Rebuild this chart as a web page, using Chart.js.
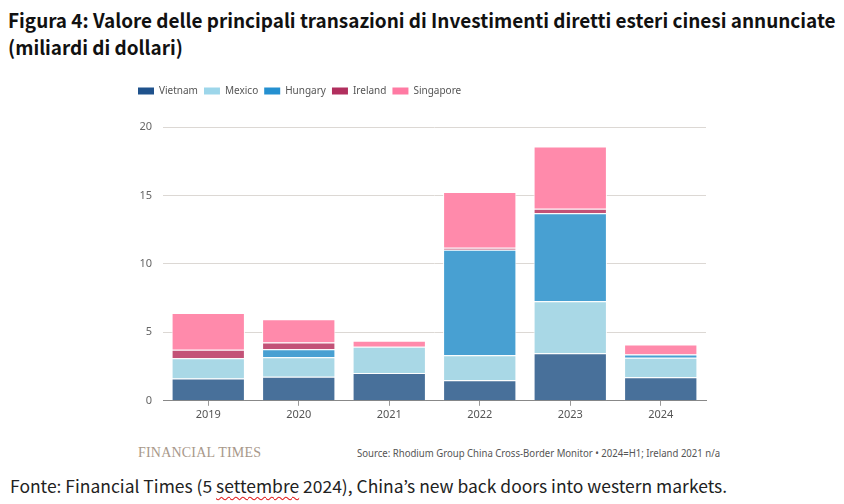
<!DOCTYPE html>
<html>
<head>
<meta charset="utf-8">
<script src="https://cdn.jsdelivr.net/npm/chart.js@4"></script>
<style>
  body { margin: 0; background: #fff; width: 844px; height: 504px; overflow: hidden; position: relative; font-family: "Noto Sans CJK JP", sans-serif; }
  .fit { position: absolute; white-space: nowrap; transform-origin: 0 50%; display: inline-block; }
  #title1, #title2 { left: 8px; font-size: 19.5px; font-weight: bold; color: #111; line-height: 27px; }
  #title1 { top: 6px; }
  #title2 { top: 33px; }
  #chartBox { position: absolute; left: 130px; top: 78px; width: 585px; height: 345px; }
  #ft { position: absolute; left: 138px; top: 445px; font-family: "Liberation Serif", serif; font-size: 14px; color: #a8988a; letter-spacing: 0.2px; }
  #source { left: 357px; top: 446px; font-family: "Noto Sans", sans-serif; font-size: 10px; color: #555; line-height: 14px; }
  #fonte { left: 10px; top: 474px; font-size: 17px; color: #222; line-height: 24px; }
  .spell { text-decoration: underline wavy #e02020; text-decoration-thickness: 1px; text-underline-offset: 3px; }
</style>
</head>
<body>
<div id="title1" class="fit">Figura 4: Valore delle principali transazioni di Investimenti diretti esteri cinesi annunciate</div>
<div id="title2" class="fit">(miliardi di dollari)</div>
<div id="chartBox"><canvas id="chart"></canvas></div>
<div id="ft">FINANCIAL TIMES</div>
<div id="source" class="fit">Source: Rhodium Group China Cross-Border Monitor • 2024=H1; Ireland 2021 n/a</div>
<div id="fonte" class="fit">Fonte: Financial Times (5 <span class="spell">settembre</span> 2024), China’s new back doors into western markets.</div>
<script>
const years = ['2019', '2020', '2021', '2022', '2023', '2024'];
const vietnam = [1.62, 1.76, 2.03, 1.50, 3.48, 1.72];
const mexico = [1.49, 1.43, 1.92, 1.83, 3.80, 1.42];
const hungary = [0, 0.58, 0, 7.70, 6.42, 0.24];
const ireland = [0.62, 0.49, null, 0.15, 0.32, 0.04];
const singapore = [2.69, 1.70, 0.44, 4.07, 4.56, 0.69];
const yTicks = [0, 5, 10, 15, 20];

const series = [
    { label: 'Vietnam', data: vietnam, bar: '#48709a', key: '#1f528c' },
    { label: 'Mexico', data: mexico, bar: '#a9d8e6', key: '#9dd6ea' },
    { label: 'Hungary', data: hungary, bar: '#48a0d2', key: '#2590d0' },
    { label: 'Ireland', data: ireland, bar: '#c35277', key: '#b12f5e' },
    { label: 'Singapore', data: singapore, bar: '#ff8aab', key: '#ff7aa3' }
];

// squeeze text lines to the widths they have in the picture
const fitWidth = (id, width, scaleFrom) => {
    const el = document.getElementById(id);
    const s = scaleFrom || width / el.scrollWidth;
    el.style.transform = `scaleX(${s})`;
    return s;
};
const titleScale = fitWidth('title1', 828);
fitWidth('title2', 0, titleScale);
fitWidth('source', 363);
fitWidth('fonte', 717);

// make room under the legend
const legendSpace = {
    id: 'legendSpace',
    beforeInit(chart) {
        const fit = chart.legend.fit;
        chart.legend.fit = function () {
            fit.bind(chart.legend)();
            this.height += 21;
        };
    }
};

new Chart(document.getElementById('chart'), {
    type: 'bar',
    data: {
        labels: years,
        datasets: series.map(s => ({
            label: s.label,
            data: s.data,
            backgroundColor: s.bar,
            borderColor: '#ffffff',
            borderWidth: 1,
            barPercentage: 0.9,
            categoryPercentage: 0.9
        }))
    },
    options: {
        responsive: true,
        maintainAspectRatio: false,
        animation: false,
        layout: { padding: { left: 2, right: 9, top: 2 } },
        plugins: {
            tooltip: { enabled: false },
            legend: {
                align: 'start',
                labels: {
                    boxWidth: 16,
                    boxHeight: 7,
                    padding: 6,
                    color: '#555',
                    font: { family: 'Noto Sans', size: 10 },
                    generateLabels: (chart) => series.map((s, i) => ({
                        text: s.label,
                        fillStyle: s.key,
                        strokeStyle: s.key,
                        lineWidth: 0,
                        fontColor: '#555',
                        datasetIndex: i
                    }))
                }
            }
        },
        scales: {
            x: {
                stacked: true,
                grid: { drawOnChartArea: false, offset: false, tickLength: 5, color: '#999' },
                border: { color: '#888' },
                ticks: { color: '#555', font: { family: 'Noto Sans', size: 11 }, padding: 2 }
            },
            y: {
                stacked: true,
                min: 0,
                max: 20,
                afterFit: (axis) => { axis.width = 31; },
                afterBuildTicks: (axis) => { axis.ticks = yTicks.map(v => ({ value: v })); },
                grid: { color: '#dcd8d4', drawTicks: false },
                border: { display: false },
                ticks: { color: '#666', font: { family: 'Noto Sans', size: 11 }, padding: 11 }
            }
        }
    },
    plugins: [legendSpace]
});
</script>
</body>
</html>
